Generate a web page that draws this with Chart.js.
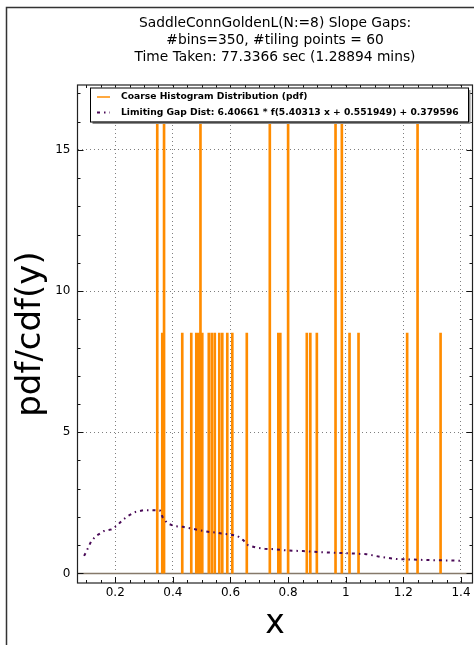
<!DOCTYPE html>
<html>
<head>
<meta charset="utf-8">
<script src="https://cdn.jsdelivr.net/npm/chart.js@4"></script>
<style>
  html, body { margin: 0; padding: 0; background: #fff; }
  canvas { display: block; }
</style>
</head>
<body>
<canvas id="gaps-chart" width="474" height="645"></canvas>
<script>
/* values */
const titleLines = [
    'SaddleConnGoldenL(N:=8) Slope Gaps:',
    '#bins=350, #tiling points = 60',
    'Time Taken: 77.3366 sec (1.28894 mins)'
];
const histLabel = 'Coarse Histogram Distribution (pdf)';
const curveLabel = 'Limiting Gap Dist: 6.40661 * f(5.40313 x + 0.551949) + 0.379596';

// histogram bins (center, height)
const binCenters = [0.3458, 0.3632, 0.3694, 0.4326, 0.4639, 0.4813, 0.4882, 0.4958, 0.5021, 0.5247,
                    0.5351, 0.5455, 0.5611, 0.5715, 0.5889, 0.6063, 0.6566, 0.7365, 0.766, 0.7729,
                    0.8, 0.8649, 0.8771, 0.8997, 0.9646, 0.9865, 1.0132, 1.0444, 1.2132, 1.2493, 1.3292];
const binHeights = [17, 8.5, 17, 8.5, 8.5, 8.5, 8.5, 17, 8.5, 8.5,
                    8.5, 8.5, 8.5, 8.5, 8.5, 8.5, 8.5, 17, 8.5, 8.5,
                    17, 8.5, 8.5, 8.5, 17, 17, 8.5, 8.5, 8.5, 17, 8.5];
const binWidth = 0.004;

// limiting gap distribution curve
const curveX = [0.092, 0.106, 0.117, 0.135, 0.161, 0.187, 0.208, 0.225, 0.245, 0.271,
                0.299, 0.326, 0.355, 0.364, 0.381, 0.407, 0.435, 0.459, 0.488, 0.517,
                0.546, 0.569, 0.598, 0.624, 0.644, 0.661, 0.69, 0.719, 0.745, 0.771,
                0.8, 0.852, 0.91, 0.962, 1.014, 1.072, 1.124, 1.176, 1.234, 1.292, 1.35, 1.399];
const curveY = [0.62, 0.91, 1.15, 1.34, 1.5, 1.56, 1.71, 1.89, 2.04, 2.18,
                2.24, 2.24, 2.23, 2.0, 1.77, 1.67, 1.65, 1.6, 1.54, 1.48,
                1.45, 1.41, 1.38, 1.33, 1.18, 1.0, 0.91, 0.87, 0.86, 0.835,
                0.81, 0.79, 0.75, 0.73, 0.71, 0.68, 0.58, 0.51, 0.49, 0.47, 0.46, 0.45];

const xTicks = [0.2, 0.4, 0.6, 0.8, 1, 1.2, 1.4];
const yTicks = [0, 5, 10, 15];
const xRange = [0.069, 1.44];
const yRange = [-0.34, 17.3];

const orange = '#ff8c00';
const purple = '#4a0a57';
const dashDot = [3, 4, 1.5, 4];

/* build the step outline of the histogram */
let histPoints = [];
binCenters.forEach(function (c, i) {
    let a = c - binWidth / 2, b = c + binWidth / 2;
    histPoints.push({x: a, y: 0}, {x: a, y: binHeights[i]}, {x: b, y: binHeights[i]}, {x: b, y: 0}, {x: b, y: null});
});
let curvePoints = curveX.map(function (x, i) { return {x: x, y: curveY[i]}; });

/* frame, inward ticks, title and the boxed legend */
const decor = {
    id: 'decor',
    beforeDraw(chart) {
        let c = chart.ctx;
        c.save();
        c.fillStyle = '#fff';
        c.fillRect(0, 0, chart.width, chart.height);
        c.strokeStyle = '#333';
        c.lineWidth = 1.5;
        c.beginPath();
        c.moveTo(6.5, chart.height);
        c.lineTo(6.5, 7.5);
        c.lineTo(chart.width, 7.5);
        c.stroke();
        c.fillStyle = '#000';
        c.font = '13.8px "DejaVu Sans"';
        c.textAlign = 'center';
        c.textBaseline = 'alphabetic';
        let a = chart.chartArea;
        let cx = (a.left + a.right) / 2;
        titleLines.forEach(function (t, i) { c.fillText(t, cx, 26.5 + i * 17.3); });
        c.restore();
    },
    afterDatasetsDraw(chart) {
        let c = chart.ctx, a = chart.chartArea;
        let xs = chart.scales.x, ys = chart.scales.y;
        c.save();
        c.strokeStyle = '#111';
        c.lineWidth = 1;
        // x ticks, every 0.05, major on 0.2
        for (let k = 2; k <= 28; k++) {
            let v = k * 0.05;
            let px = Math.round(xs.getPixelForValue(v)) + 0.5;
            let len = (k % 4 === 0) ? 6 : 3;
            c.beginPath();
            c.moveTo(px, a.bottom); c.lineTo(px, a.bottom - len);
            c.moveTo(px, a.top); c.lineTo(px, a.top + len);
            c.stroke();
        }
        // y ticks, every 1, major on 5
        for (let v = 0; v <= 17; v++) {
            let py = Math.round(ys.getPixelForValue(v)) + 0.5;
            let len = (v % 5 === 0) ? 6 : 3;
            c.beginPath();
            c.moveTo(a.left, py); c.lineTo(a.left + len, py);
            c.moveTo(a.right, py); c.lineTo(a.right - len, py);
            c.stroke();
        }
        c.strokeStyle = '#222';
        c.lineWidth = 1.2;
        c.strokeRect(a.left, a.top, a.right - a.left, a.bottom - a.top);

        // legend box with shadow
        let bx = 90, by = 87.5, bw = 378, bh = 34;
        c.fillStyle = '#8c8c8c';
        c.fillRect(bx + 2.5, by + 2.5, bw, bh);
        c.fillStyle = '#fff';
        c.fillRect(bx, by, bw, bh);
        c.strokeStyle = '#000';
        c.lineWidth = 1;
        c.strokeRect(bx + 0.5, by + 0.5, bw, bh);

        c.lineWidth = 1.5;
        c.strokeStyle = orange;
        c.beginPath(); c.moveTo(97, 97); c.lineTo(110, 97); c.stroke();
        c.strokeStyle = purple;
        c.lineWidth = 2;
        c.setLineDash(dashDot);
        c.beginPath(); c.moveTo(97, 112.5); c.lineTo(110, 112.5); c.stroke();
        c.setLineDash([]);

        c.fillStyle = '#000';
        c.font = 'bold 9.2px "DejaVu Sans"';
        c.textAlign = 'left';
        c.textBaseline = 'middle';
        c.fillText(histLabel, 121, 97);
        c.fillText(curveLabel, 121, 112.5);
        c.restore();
    }
};

let chartCanvas = document.querySelector('#gaps-chart');
let ctx = chartCanvas.getContext('2d');

let chart = new Chart(ctx, {
    type: 'line',
    data: {
        datasets: [{
            label: curveLabel,
            data: curvePoints,
            borderColor: purple,
            borderWidth: 2,
            borderDash: dashDot,
            pointRadius: 0,
            tension: 0
        }, {
            label: histLabel,
            data: histPoints,
            borderColor: orange,
            borderWidth: 1.5,
            pointRadius: 0,
            spanGaps: false,
            tension: 0
        }, {
            label: 'baseline',
            data: [{x: xRange[0], y: 0}, {x: xRange[1], y: 0}],
            borderColor: '#85796a',
            borderWidth: 1.5,
            pointRadius: 0
        }]
    },
    options: {
        responsive: false,
        animation: false,
        layout: { padding: { left: 0, right: 1.5, top: 85, bottom: 0 } },
        plugins: {
            legend: { display: false },
            tooltip: { enabled: false }
        },
        scales: {
            x: {
                type: 'linear',
                min: xRange[0],
                max: xRange[1],
                afterFit: function (s) { s.height = 62; },
                afterBuildTicks: function (s) { s.ticks = xTicks.map(function (v) { return {value: v}; }); },
                ticks: {
                    padding: 3,
                    color: '#000',
                    font: { family: 'DejaVu Sans', size: 12 },
                    maxRotation: 0,
                    callback: function (v) { return String(+v.toFixed(2)); }
                },
                grid: { color: 'rgba(0,0,0,0.5)', lineWidth: 1, drawTicks: false },
                border: { display: false, dash: [1, 3] },
                title: {
                    display: true,
                    text: 'x',
                    color: '#000',
                    font: { family: 'DejaVu Sans', size: 33 },
                    padding: { top: 0, bottom: 1 }
                }
            },
            y: {
                type: 'linear',
                min: yRange[0],
                max: yRange[1],
                afterFit: function (s) { s.width = 77.5; },
                afterBuildTicks: function (s) { s.ticks = yTicks.map(function (v) { return {value: v}; }); },
                ticks: {
                    padding: 7,
                    color: '#000',
                    font: { family: 'DejaVu Sans', size: 12 },
                    callback: function (v) { return String(v); }
                },
                grid: { color: 'rgba(0,0,0,0.5)', lineWidth: 1, drawTicks: false },
                border: { display: false, dash: [1, 3] },
                title: {
                    display: true,
                    text: 'pdf/cdf(y)',
                    color: '#000',
                    font: { family: 'DejaVu Sans', size: 34 },
                    padding: { top: 11, bottom: 0 }
                }
            }
        }
    },
    plugins: [decor]
});
</script>
</body>
</html>
